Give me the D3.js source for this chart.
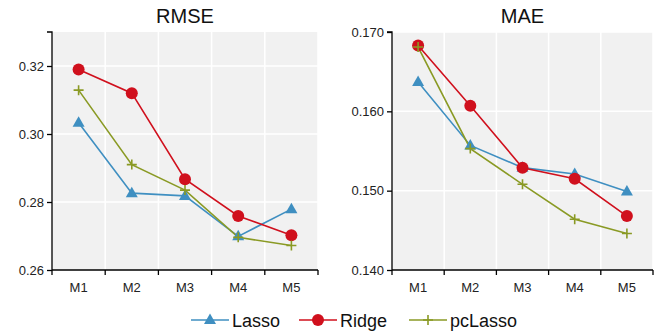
<!DOCTYPE html>
<html>
<head>
<meta charset="utf-8">
<script src="https://cdn.jsdelivr.net/npm/d3@7"></script>
<style>
  body { margin: 0; background: #fff; }
  svg { display: block; font-family: "Liberation Sans", Arial, sans-serif; }
</style>
</head>
<body>
<svg id="chart" width="661" height="335"></svg>
<script>
// categories and values
const models = ['M1', 'M2', 'M3', 'M4', 'M5'];
const seriesNames = ['Lasso', 'Ridge', 'pcLasso'];

const rmseLasso = [0.3033, 0.2826, 0.2818, 0.2699, 0.2779];
const rmseRidge = [0.3190, 0.3120, 0.2867, 0.2759, 0.2702];
const rmsePcLasso = [0.3129, 0.2910, 0.2835, 0.2696, 0.2672];

const maeLasso = [0.1637, 0.1557, 0.1529, 0.1521, 0.1499];
const maeRidge = [0.1683, 0.1607, 0.1529, 0.1515, 0.1468];
const maePcLasso = [0.1681, 0.1553, 0.1508, 0.1464, 0.1446];

const rmseTicks = [0.26, 0.28, 0.30, 0.32];
const maeTicks = [0.140, 0.150, 0.160, 0.170];

const colors = { Lasso: '#3f8fc1', Ridge: '#d0101d', pcLasso: '#8a9a24' };

const svg = d3.select('#chart');

// draw one marker shape at (0,0)
function marker(g, name) {
  const c = colors[name];
  if (name === 'Lasso') {
    g.append('path').attr('d', 'M0,-6.5L6,4L-6,4Z').attr('fill', c);
  } else if (name === 'Ridge') {
    g.append('circle').attr('r', 6).attr('fill', c);
  } else {
    g.append('path').attr('d', 'M-5,0H5M0,-5V5')
      .attr('stroke', c).attr('stroke-width', 1.6);
  }
}

function panel(opts) {
  const { left, right, top, bottom, domain, ticks, fmt, title, data } = opts;

  const x = d3.scaleBand().domain(models).range([left, right]);
  const y = d3.scaleLinear().domain(domain).range([bottom, top]);
  const g = svg.append('g');

  g.append('rect')
    .attr('x', left).attr('y', top)
    .attr('width', right - left).attr('height', bottom - top)
    .attr('fill', '#f1f1f1');

  // white grid
  g.selectAll('.hgrid')
    .data(ticks.filter((t) => t > domain[0]))
    .enter().append('line')
    .attr('x1', left).attr('x2', right)
    .attr('y1', (d) => y(d)).attr('y2', (d) => y(d))
    .attr('stroke', '#fff').attr('stroke-width', 1.5);

  const bounds = models.map((m) => x(m)).concat([right]);
  g.selectAll('.vgrid')
    .data(bounds.slice(1))
    .enter().append('line')
    .attr('x1', (d) => d).attr('x2', (d) => d)
    .attr('y1', top).attr('y2', bottom)
    .attr('stroke', '#fff').attr('stroke-width', 1.5);

  // y axis
  const yAxis = d3.axisLeft(y).tickValues(ticks).tickFormat(d3.format(fmt)).tickSize(5);
  const ya = g.append('g').attr('transform', `translate(${left},0)`).call(yAxis);
  ya.select('.domain').attr('stroke', '#000').attr('stroke-width', 1.3).attr('d', `M-5,${top}H0V${bottom}`);
  ya.selectAll('.tick line').attr('stroke', '#000').attr('stroke-width', 1.3);
  ya.selectAll('.tick text').attr('font-size', 13).attr('fill', '#222').attr('x', -8)
    .attr('font-family', '"Liberation Sans", Arial, sans-serif');

  // x axis: ticks at band boundaries, labels at centres
  g.append('line')
    .attr('x1', left).attr('x2', right)
    .attr('y1', bottom).attr('y2', bottom)
    .attr('stroke', '#000').attr('stroke-width', 1.3);
  g.selectAll('.xtick')
    .data(bounds)
    .enter().append('line')
    .attr('x1', (d) => d).attr('x2', (d) => d)
    .attr('y1', bottom).attr('y2', bottom + 5)
    .attr('stroke', '#000').attr('stroke-width', 1.3);
  g.selectAll('.xlabel')
    .data(models)
    .enter().append('text')
    .attr('x', (d) => x(d) + x.bandwidth() / 2)
    .attr('y', bottom + 22)
    .attr('text-anchor', 'middle')
    .attr('font-size', 13).attr('fill', '#222')
    .text((d) => d);

  g.append('text')
    .attr('x', (left + right) / 2).attr('y', 23)
    .attr('text-anchor', 'middle')
    .attr('font-size', 20).attr('fill', '#111')
    .text(title);

  const line = d3.line()
    .x((d, i) => x(models[i]) + x.bandwidth() / 2)
    .y((d) => y(d));

  seriesNames.forEach((name) => {
    const vals = data[name];
    g.append('path').datum(vals)
      .attr('d', line).attr('fill', 'none')
      .attr('stroke', colors[name]).attr('stroke-width', 1.6);
  });
  seriesNames.forEach((name) => {
    data[name].forEach((v, i) => {
      const m = g.append('g')
        .attr('transform', `translate(${x(models[i]) + x.bandwidth() / 2},${y(v)})`);
      marker(m, name);
    });
  });
}

panel({
  left: 52, right: 318, top: 32, bottom: 270,
  domain: [0.26, 0.33], ticks: rmseTicks, fmt: '.2f', title: 'RMSE',
  data: { Lasso: rmseLasso, Ridge: rmseRidge, pcLasso: rmsePcLasso }
});

panel({
  left: 392, right: 653, top: 32, bottom: 270,
  domain: [0.14, 0.17], ticks: maeTicks, fmt: '.3f', title: 'MAE',
  data: { Lasso: maeLasso, Ridge: maeRidge, pcLasso: maePcLasso }
});

// legend
const legendX = [191, 299, 409];
const leg = svg.append('g');
seriesNames.forEach((name, i) => {
  const lg = leg.append('g').attr('transform', `translate(${legendX[i]},320)`);
  lg.append('line').attr('x1', 0).attr('x2', 38).attr('y1', 0).attr('y2', 0)
    .attr('stroke', colors[name]).attr('stroke-width', 1.6);
  marker(lg.append('g').attr('transform', 'translate(19,0)'), name);
  lg.append('text').attr('x', 41).attr('y', 6.5)
    .attr('font-size', 18).attr('fill', '#111')
    .text(name);
});
</script>
</body>
</html>
